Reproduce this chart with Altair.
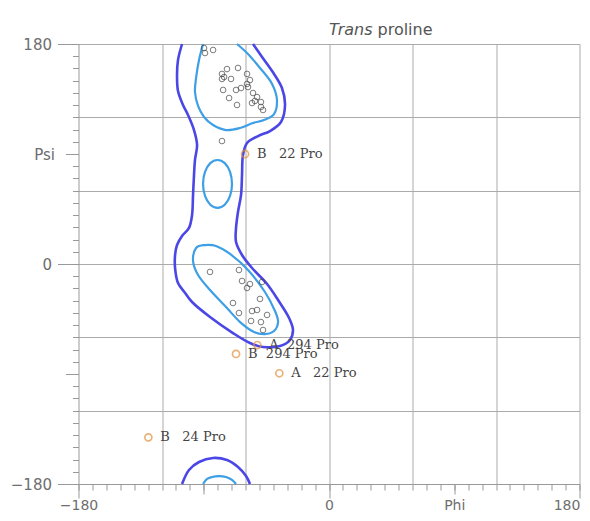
import altair as alt
import pandas as pd

NB = "\u00a0"

# ---------------- data (phi, psi in degrees) ----------------
# outer (dark blue) contour, main body (clipped at psi = 180)
OUTER_PHI = [-105.6, -108.5, -109.2, -108.5, -104.9, -101.3, -97.0, -94.8, -96.3, -97.0,
             -97.7, -98.4, -100.6, -105.6, -109.2, -110.6, -110.6, -108.5, -103.4, -98.4,
             -85.5, -69.0, -56.8, -47.4, -35.2, -28.0, -25.9, -28.7, -36.6, -44.5,
             -55.3, -62.5, -66.8, -66.8, -65.4, -63.2, -62.5, -61.8, -58.9, -51.0,
             -42.4, -34.5, -31.6, -33.8, -40.9, -48.1, -54.6]
OUTER_PSI = [180, 166.9, 154.6, 141.5, 130.1, 121.9, 109.6, 97.4, 85.1, 72.8,
             56.5, 40.1, 29.5, 22.9, 15.5, 7.4, -3.3, -15.5, -23.7, -31.1,
             -43.4, -56.5, -64.6, -67.9, -67.1, -62.2, -54.0, -44.2, -29.5, -16.4,
             -3.3, 7.4, 18.0, 29.5, 42.5, 56.5, 72.8, 89.2, 99.0, 104.7,
             108.8, 116.2, 130.1, 144.0, 157.9, 169.4, 180]
# outer contour wrapping round at psi = -180
OUTER_ARC_PHI = [-105.6, -100.6, -93.4, -83.3, -73.3, -65.4, -59.6, -56.8]
OUTER_ARC_PSI = [-180, -168.5, -162.0, -158.7, -160.4, -166.1, -173.5, -180]

# inner (light blue) contours
INNER_TOP_PHI = [-90.5, -93.4, -95.5, -96.3, -94.1, -89.8, -83.3, -74.0, -63.9, -54.6,
                 -46.7, -39.5, -37.4, -40.9, -49.6, -58.2, -66.1]
INNER_TOP_PSI = [180, 166.9, 152.2, 140.7, 129.3, 120.3, 113.7, 109.6, 111.3, 115.4,
                 117.8, 122.7, 134.2, 147.3, 160.4, 171.8, 180]
INNER_ARC_PHI = [-90.5, -87.6, -84.1, -79.0, -74.0, -69.7, -66.8]
INNER_ARC_PSI = [-180, -175.9, -174.3, -173.5, -174.3, -176.7, -180]
INNER_MID_PHI = [-69.7, -71.1, -74.9, -80.1, -85.3, -89.1, -90.5, -89.1, -85.3, -80.1, -74.9, -71.1]
INNER_MID_PSI = [65.5, 75.3, 82.5, 85.1, 82.5, 75.3, 65.5, 55.7, 48.5, 45.9, 48.5, 55.7]
INNER_LOW_PHI = [-95.5, -89.1, -81.2, -71.1, -58.2, -46.0, -38.8, -36.6, -39.5, -46.0,
                 -53.9, -63.9, -74.0, -85.5, -94.1, -97.7]
INNER_LOW_PSI = [13.1, 15.5, 14.7, 8.2, -4.9, -22.9, -38.5, -47.5, -54.8, -57.3,
                 -55.6, -47.5, -35.2, -21.3, -9.0, 2.5]

# favoured residues (black circles)
PRO_PHI = [-89.8, -89.1, -83.3, -73.3, -65.4, -76.9, -76.9, -75.4, -58.9, -70.4,
           -56.8, -58.9, -76.1, -66.8, -63.2, -58.2, -71.8, -54.6, -51.7, -53.2,
           -48.9, -55.3, -66.1, -48.9, -47.4, -76.9,
           -85.5, -64.7, -62.5, -56.8, -58.9, -48.1, -69.0, -49.6, -64.7, -55.3,
           -51.7, -44.5, -56.0, -48.9, -47.4]
PRO_PSI = [176.7, 172.6, 175.1, 159.5, 160.4, 155.5, 151.4, 153.0, 155.5, 151.4,
           150.5, 147.3, 142.4, 142.4, 144.0, 144.8, 135.8, 139.9, 136.6, 133.4,
           132.5, 131.7, 130.1, 128.5, 126.0, 100.6,
           -6.5, -4.9, -13.9, -16.4, -19.6, -14.7, -31.9, -28.6, -40.1, -38.5,
           -37.6, -41.7, -46.6, -47.5, -54.0]

# outliers (orange circles with labels)
OUT_LABELS = ["B" + NB * 3 + "22 Pro", "A" + NB * 2 + "294 Pro", "B" + NB * 2 + "294 Pro",
              "A" + NB * 3 + "22 Pro", "B" + NB * 3 + "24 Pro"]
OUT_PHI = [-60.3, -51.5, -66.8, -35.7, -129.8]
OUT_PSI = [90.0, -66.3, -73.6, -89.4, -141.8]

# axis tick values
MINOR_TICKS = list(range(-180, 181, 10))
MID_TICKS = [-90, 90]
MAJOR_TICKS = [-180, 0, 180]
GRID_VALUES = [-120, -60, 0, 60, 120, 180]

TITLE_ITALIC = "Trans"
TITLE_REST = "proline"

# ---------------- tables ----------------
def seg(name, phis, psis):
    return pd.DataFrame({"phi": phis, "psi": psis, "seg": name, "ord": list(range(len(phis)))})

dark_df = pd.concat([seg("outer", OUTER_PHI, OUTER_PSI), seg("outer_arc", OUTER_ARC_PHI, OUTER_ARC_PSI)])
light_open_df = pd.concat([seg("top", INNER_TOP_PHI, INNER_TOP_PSI), seg("arc", INNER_ARC_PHI, INNER_ARC_PSI)])
light_closed_df = pd.concat([seg("mid", INNER_MID_PHI, INNER_MID_PSI), seg("low", INNER_LOW_PHI, INNER_LOW_PSI)])
pro_df = pd.DataFrame({"phi": PRO_PHI, "psi": PRO_PSI})
out_df = pd.DataFrame({"phi": OUT_PHI, "psi": OUT_PSI, "label": OUT_LABELS})

# ---------------- styling ----------------
DARK = "#4b46e6"
LIGHT = "#3d9fe6"
ORANGE = "#e3923f"
LBL_COLOR = "#6e6e6e"
TICK_COLOR = "#999999"
FONT = "DejaVu Sans"

xs = alt.Scale(domain=[-180, 180], nice=False, zero=False)
ys = alt.Scale(domain=[-180, 180], nice=False, zero=False)


def ax(orient, values, **kw):
    base = dict(orient=orient, values=values, title=None, grid=False, domain=False,
                labels=False, ticks=True, tickColor=TICK_COLOR, tickWidth=1,
                labelFlush=False, labelFont=FONT, labelFontSize=15, labelColor=LBL_COLOR,
                labelOverlap=False)
    base.update(kw)
    return alt.Axis(**base)


grid_x = ax("bottom", GRID_VALUES, ticks=False, grid=True, gridColor="#ababab", gridWidth=1)
grid_y = ax("left", GRID_VALUES, ticks=False, grid=True, gridColor="#ababab", gridWidth=1)
minor_x = ax("bottom", MINOR_TICKS, tickSize=6, domain=True, domainColor=TICK_COLOR, domainWidth=1)
minor_y = ax("left", MINOR_TICKS, tickSize=6, domain=True, domainColor=TICK_COLOR, domainWidth=1)
mid_x = ax("bottom", MID_TICKS, tickSize=10, labels=True, labelPadding=4, labelFontSize=14,
           labelExpr="datum.value == 90 ? 'Phi' : ''")
mid_y = ax("left", MID_TICKS, tickSize=13, labels=True, labelPadding=11,
           labelExpr="datum.value == 90 ? 'Psi' : ''")
major_x = ax("bottom", MAJOR_TICKS, tickSize=14, labels=True, labelPadding=0, labelFontSize=14,
             format="d",
             labelOffset={"condition": {"test": "datum.value == 180", "value": -13}, "value": 0})
major_y = ax("left", MAJOR_TICKS, tickSize=21, labels=True, labelPadding=6, format="d")

closed_layer = alt.Chart(light_closed_df).mark_line(
    interpolate="cardinal-closed", stroke=LIGHT, strokeWidth=2.2
).encode(
    x=alt.X("phi:Q", scale=xs, axis=grid_x),
    y=alt.Y("psi:Q", scale=ys, axis=grid_y),
    detail="seg:N", order="ord:Q",
)

dark_layer = alt.Chart(dark_df).mark_line(
    interpolate="catmull-rom", stroke=DARK, strokeWidth=2.6
).encode(
    x=alt.X("phi:Q", scale=xs, axis=minor_x),
    y=alt.Y("psi:Q", scale=ys, axis=minor_y),
    detail="seg:N", order="ord:Q",
)

light_layer = alt.Chart(light_open_df).mark_line(
    interpolate="catmull-rom", stroke=LIGHT, strokeWidth=2.2
).encode(
    x=alt.X("phi:Q", scale=xs, axis=mid_x),
    y=alt.Y("psi:Q", scale=ys, axis=mid_y),
    detail="seg:N", order="ord:Q",
)

pro_layer = alt.Chart(pro_df).mark_point(
    shape="circle", size=32, filled=False, stroke="#444444", strokeWidth=1
).encode(
    x=alt.X("phi:Q", scale=xs, axis=major_x),
    y=alt.Y("psi:Q", scale=ys, axis=major_y),
)

out_layer = alt.Chart(out_df).mark_point(
    shape="circle", size=50, filled=False, stroke=ORANGE, strokeWidth=1.7
).encode(
    x=alt.X("phi:Q", scale=xs, axis=None),
    y=alt.Y("psi:Q", scale=ys, axis=None),
)

out_text = alt.Chart(out_df).mark_text(
    align="left", baseline="middle", dx=12, font="DejaVu Serif", fontSize=13, color="#444444"
).encode(
    x=alt.X("phi:Q", scale=xs, axis=None),
    y=alt.Y("psi:Q", scale=ys, axis=None),
    text="label:N",
)

title_a = alt.Chart(pd.DataFrame({"t": [TITLE_ITALIC]})).mark_text(
    font=FONT, fontSize=16, fontStyle="italic", align="right", baseline="alphabetic", color="#555555"
).encode(text="t:N", x=alt.value(294), y=alt.value(-9))

title_b = alt.Chart(pd.DataFrame({"t": [TITLE_REST]})).mark_text(
    font=FONT, fontSize=16, align="left", baseline="alphabetic", color="#555555"
).encode(text="t:N", x=alt.value(299), y=alt.value(-9))

chart = alt.layer(
    closed_layer, dark_layer, light_layer, pro_layer, out_layer, out_text, title_a, title_b
).resolve_axis(
    x="independent", y="independent"
).properties(
    width=501, height=440,
    autosize=alt.AutoSizeParams(type="none"),
    padding={"left": 70.5, "top": 36, "right": 2.5, "bottom": 29},
).configure_view(stroke=None)

chart.save("out.html", embed_options={"renderer": "svg", "actions": False})
